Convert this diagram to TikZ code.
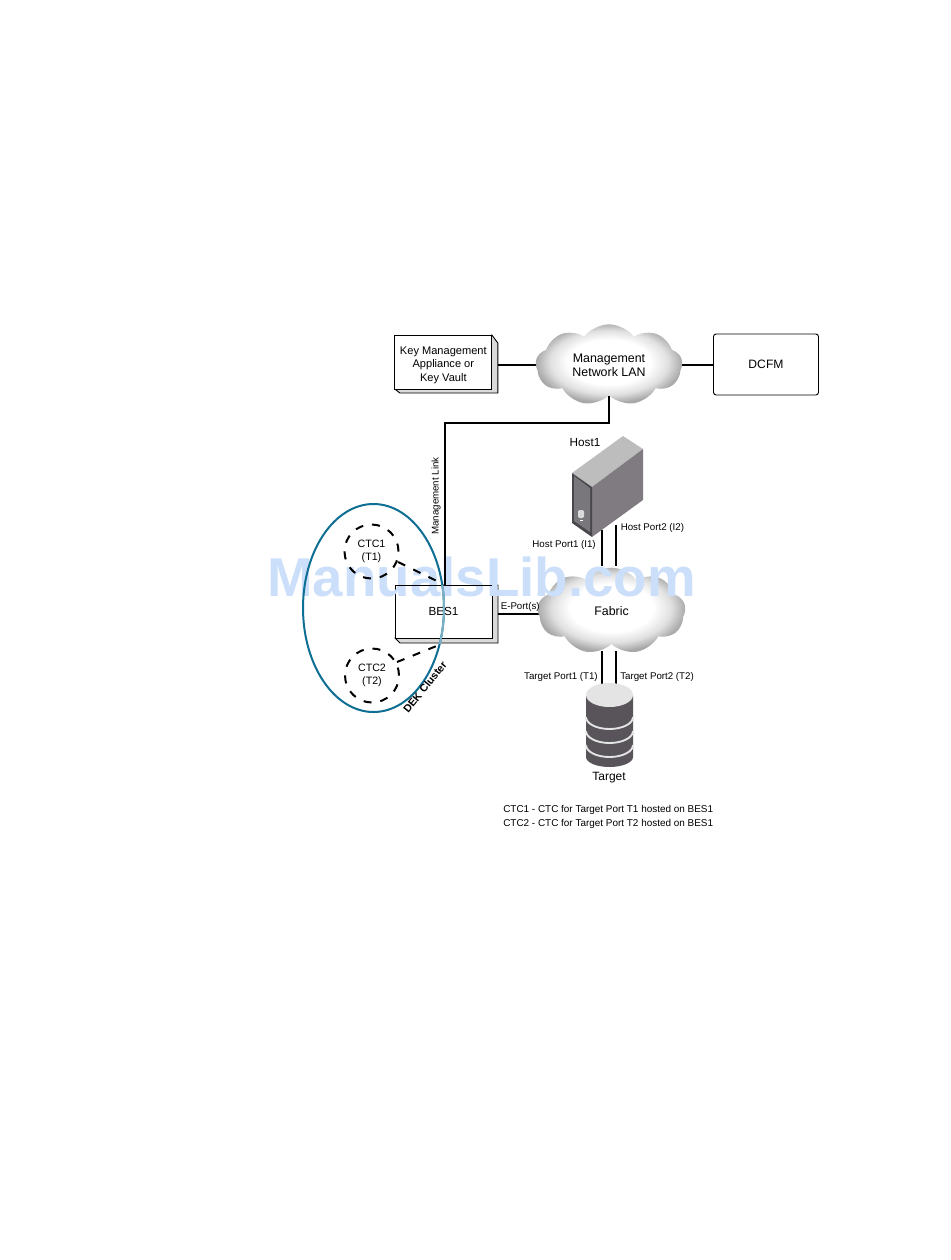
\documentclass[tikz,border=0pt]{standalone}
\usepackage{fontspec}
\setmainfont{Liberation Sans}
\usepackage{tikz}
\usetikzlibrary{backgrounds,calc,positioning,shapes.geometric,shapes.symbols}
\definecolor{dekblue}{HTML}{0E6E94}
\definecolor{boxside}{HTML}{DADADA}
\definecolor{stackdark}{HTML}{58545A}
\definecolor{stacklight}{HTML}{E4E4E4}
\definecolor{towertop}{HTML}{BDBDBD}
\definecolor{towerside}{HTML}{7F7B80}
\definecolor{towerfront}{HTML}{7A777C}
\definecolor{towerrim}{HTML}{4A474C}
\definecolor{markblue}{HTML}{CBDFFA}
\pgfdeclareradialshading{cloudglow}{\pgfpoint{0bp}{2bp}}{
  color(0bp)=(white); color(14bp)=(white); color(20bp)=(black!12);
  color(25bp)=(black!34); color(50bp)=(black!42)}
\tikzset{
  plainbox/.style={draw=black, line width=0.7pt, fill=white, align=center,
    inner sep=0pt, outer sep=0pt, font=\fontsize{8.8}{10}\selectfont},
  netcloud/.style={cloud, cloud puffs=9, cloud puff arc=105, aspect=1.8, inner sep=0pt,
    shade, shading=cloudglow, align=center, font=\fontsize{9.3}{10.4}\selectfont},
  ctcring/.style={circle, draw=black, line width=1.5pt, dash pattern=on 6pt off 6.7pt,
    minimum size=40.5pt, inner sep=0pt, align=center, font=\fontsize{8}{10}\selectfont},
  ctcdash/.style={draw=black, line width=1.5pt, dash pattern=on 6pt off 6.7pt},
  netlink/.style={draw=black, line width=2pt},
  portlink/.style={draw=black, line width=1.9pt},
  boxedge/.style={fill=boxside, draw=black, line width=0.7pt},
  dekring/.style={ellipse, line width=1.5pt, minimum width=105.75pt, minimum height=156pt, inner sep=0pt},
  portnote/.style={font=\fontsize{7.3}{10}\selectfont, inner sep=0pt},
  biglabel/.style={font=\fontsize{8.8}{10}\selectfont, inner sep=0pt}
}
\begin{document}
\begin{tikzpicture}[x=0.75pt, y=-0.75pt]
  \useasboundingbox (0,0) rectangle (950,1260);
  \node[netcloud, minimum width=110pt, minimum height=61pt] (lan) at (609,365) {Management\\Network LAN};
  \node[plainbox, minimum width=72.75pt, minimum height=40.5pt, left=32.75pt of lan, yshift=2.25pt] (key) {};
  \node[font=\fontsize{8.3}{10.1}\selectfont, align=center, inner sep=0pt] (keytext) at ($(key)+(0,3)$) {Key Management\\Appliance or\\Key Vault};
  \node[plainbox, rounded corners=2pt, minimum width=78.75pt, minimum height=45.75pt,
    font=\fontsize{9.1}{10}\selectfont, right=23.25pt of lan, yshift=0.4pt] (dcfm) {DCFM};
  \node[plainbox, minimum width=72.75pt, minimum height=39.75pt] (bes) at (443.5,611.5) {BES1};
  \node[netcloud, minimum width=111pt, minimum height=65pt] (fabric) at (611.5,611) {Fabric};
  \coordinate (hostA) at (602,530);
  \coordinate (hostB) at (616,525);
  \coordinate (targetA) at (602,690);
  \coordinate (targetB) at (616,690);
  \coordinate (bend) at (445,423);
  \coordinate (keyport) at ($(key.east)+(6,3)$);
  \coordinate (besport) at ($(bes.east)+(6,2.5)$);
  \coordinate (fabrictop) at ($(fabric.north)+(0,-1)$);
  \coordinate (fabricfoot) at ($(fabric.south)+(0,7)$);
  \begin{scope}[on background layer]
    \draw[boxedge] (key.north east) -- ++(6,8) |- ($(key.south west)+(5,4)$) -- (key.south west) -- cycle;
    \draw[boxedge] (bes.north east) -- ++(6,0) |- ($(bes.south west)+(5,5)$) -- (bes.south west) -- cycle;
    \draw[netlink] (keyport) -- (lan.center |- keyport);
    \draw[netlink] (lan.center) -- (dcfm.west |- lan.center);
    \draw[netlink] (besport) -- (fabric.center |- besport);
  \end{scope}
  \node[text=markblue, font=\bfseries\fontsize{41}{41}\selectfont, inner sep=0pt] (mark) at (481.5,577) {ManualsLib.com};
  \draw[plainbox, fill=none] (bes.north west) -- (bes.north east);
  \draw[netlink] (lan.south) -- (lan.south |- bend) -- (bend) -- (bend |- bes.north);
  \draw[portlink] (hostA) -- (hostA |- fabrictop);
  \draw[portlink] (hostB) -- (hostB |- fabrictop);
  \draw[portlink] (targetA) -- (targetA |- fabricfoot);
  \draw[portlink] (targetB) -- (targetB |- fabricfoot);
  \fill[towertop] (572,473) -- (623,436) -- (643,449) -- (592,487) -- cycle;
  \fill[towerside] (592,487) -- (643,449) -- (643,500) -- (592,537) -- cycle;
  \fill[towerrim] (572,473) -- (592,487) -- (592,537) -- (572,523) -- cycle;
  \fill[towerfront] (574,476) -- (590,488) -- (590,532) -- (574,521) -- cycle;
  \fill[white!85!black, rounded corners=1pt] (578,510) rectangle (584,518);
  \fill[white] (580,520) rectangle (583,521);
  \fill[stackdark] (586,695) -- (586,757) arc[start angle=180, end angle=360, x radius=23.5, y radius=-10] -- (633,695) -- cycle;
  \foreach \bandy in {717,731,745} {
    \draw[stacklight, line width=1.4pt] (586,\bandy) arc[start angle=180, end angle=360, x radius=23.5, y radius=-12];
  }
  \fill[stacklight] (609.5,695) ellipse[x radius=23.5, y radius=12];
  \node[ctcring] (ctca) at (371.5,551.5) {CTC1\\(T1)};
  \node[ctcring] (ctcb) at (372,675.5) {CTC2\\(T2)};
  \draw[ctcdash] (398,562) -- (bend |- bes.north);
  \draw[ctcdash] (397,662) -- (439,645);
  \node[dekring, draw=dekblue] (dek) at (373.5,608) {};
  \begin{scope}
    \clip (bes.north west) rectangle ($(bes.south east)+(6,5)$);
    \node[dekring, draw=dekblue!55!white] (dekfaint) at (dek) {};
  \end{scope}
  \node[biglabel] (hostlabel) at (585,443) {Host1};
  \node[biglabel, font=\fontsize{9}{10}\selectfont] (targetlabel) at (609,778) {Target};
  \node[portnote, rotate=90] (mgmtlabel) at (436,496) {Management Link};
  \node[portnote, anchor=east] (hostAlabel) at (596,545) {Host Port1 (I1)};
  \node[portnote, anchor=west] (hostBlabel) at (620.5,527.5) {Host Port2 (I2)};
  \node[portnote, anchor=east] (targetAlabel) at (598,677) {Target Port1 (T1)};
  \node[portnote, anchor=west] (targetBlabel) at (620,677) {Target Port2 (T2)};
  \node[portnote, anchor=west] (eportlabel) at (500.5,607) {E-Port(s)};
  \node[font=\bfseries\fontsize{8}{10}\selectfont, rotate=51, inner sep=0pt] (deklabel) at (425,687) {DEK Cluster};
  \node[portnote, font=\fontsize{7.45}{10}\selectfont, anchor=north west, align=left] (legend) at (503,805.5) {CTC1 - CTC for Target Port T1 hosted on BES1\\CTC2 - CTC for Target Port T2 hosted on BES1};
\end{tikzpicture}
\end{document}
